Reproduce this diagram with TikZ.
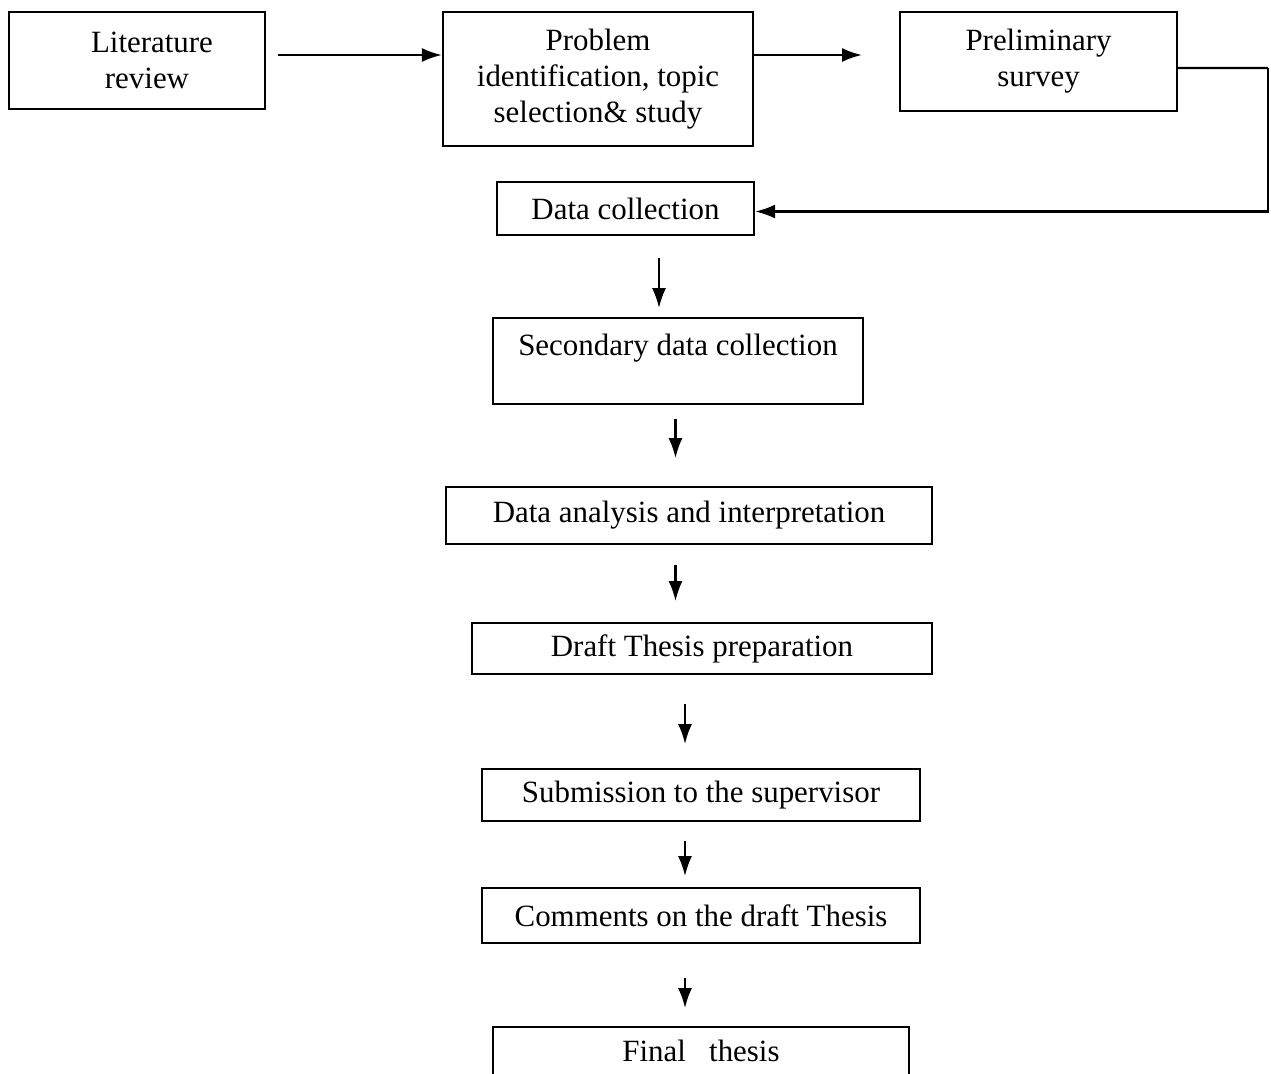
\documentclass[tikz,border=0pt]{standalone}
\usepackage{fontspec}
\setmainfont{Liberation Serif}
\usepackage{tikz}
\usetikzlibrary{arrows.meta}
\tikzset{stage/.style={rectangle, draw=black, line width=1.3pt, align=center, inner sep=0pt, font=\fontsize{17.6}{20.5}\selectfont}}
\tikzset{arrow/.style={->, >={Latex[length=0.4cm,width=0.28cm]}, line width=1.3pt}}
\tikzset{flow/.style={line width=1.3pt}}

\begin{document}
\begin{tikzpicture}[x=0.02cm, y=-0.02cm]
  \useasboundingbox (0,0) rectangle (1271,1073);
  \clip (0,0) rectangle (1271,1073);

  \node[stage, minimum width=5.12cm, minimum height=1.94cm] (lit) at (137,60.5) {\hspace*{0.6cm}Literature\\\hspace*{0.4cm}review};
  \node[stage, minimum width=6.2cm, minimum height=2.68cm] (prob) at (598,79) {Problem\\identification, topic\\selection\& study};
  \node[stage, minimum width=5.54cm, minimum height=1.98cm] (prelim) at (1038.5,61.5) {Preliminary\\survey};
  \node[stage, minimum width=5.14cm, minimum height=1.06cm] (dc) at (625.5,208.5) {Data collection};
  \node[stage, minimum width=7.4cm, minimum height=1.72cm, text depth=0.66cm] (sec) at (678,361) {Secondary data collection};
  \node[stage, minimum width=9.72cm, minimum height=1.14cm] (ana) at (689,515.5) {Data analysis and interpretation};
  \node[stage, minimum width=9.2cm, minimum height=1.02cm] (draft) at (702,648.5) {Draft Thesis preparation};
  \node[stage, minimum width=8.76cm, minimum height=1.04cm] (sub) at (701,795) {Submission to the supervisor};
  \node[stage, minimum width=8.76cm, minimum height=1.1cm] (com) at (701,915.5) {Comments on the draft Thesis};
  \node[stage, minimum width=8.32cm, minimum height=1.26cm, text depth=0.3cm] (fin) at (701,1058.5) {Final\ \ \ thesis};

  \coordinate (a1) at (278,55);
  \coordinate (a2) at (862,55);
  \coordinate (c1) at (1268,68);

  \draw[arrow] (a1) -- (a1 -| prob.west);
  \draw[arrow] (a1 -| prob.east) -- (a2);
  \draw[flow] ([yshift=-0.13cm]prelim.east) -- (c1);
  \draw[arrow] (c1) |- ([yshift=-0.06cm]dc.east);

  \draw[arrow] ([xshift=0.67cm,yshift=-0.44cm]dc.south) -- ++(0,50);
  \draw[arrow] ([xshift=-0.05cm,yshift=-0.28cm]sec.south) -- ++(0,39);
  \draw[arrow] ([xshift=-0.27cm,yshift=-0.4cm]ana.south) -- ++(0,36);
  \draw[arrow] ([xshift=-0.34cm,yshift=-0.58cm]draft.south) -- ++(0,40);
  \draw[arrow] ([xshift=-0.32cm,yshift=-0.38cm]sub.south) -- ++(0,35);
  \draw[arrow] ([xshift=-0.32cm,yshift=-0.68cm]com.south) -- ++(0,30);
\end{tikzpicture}
\end{document}
